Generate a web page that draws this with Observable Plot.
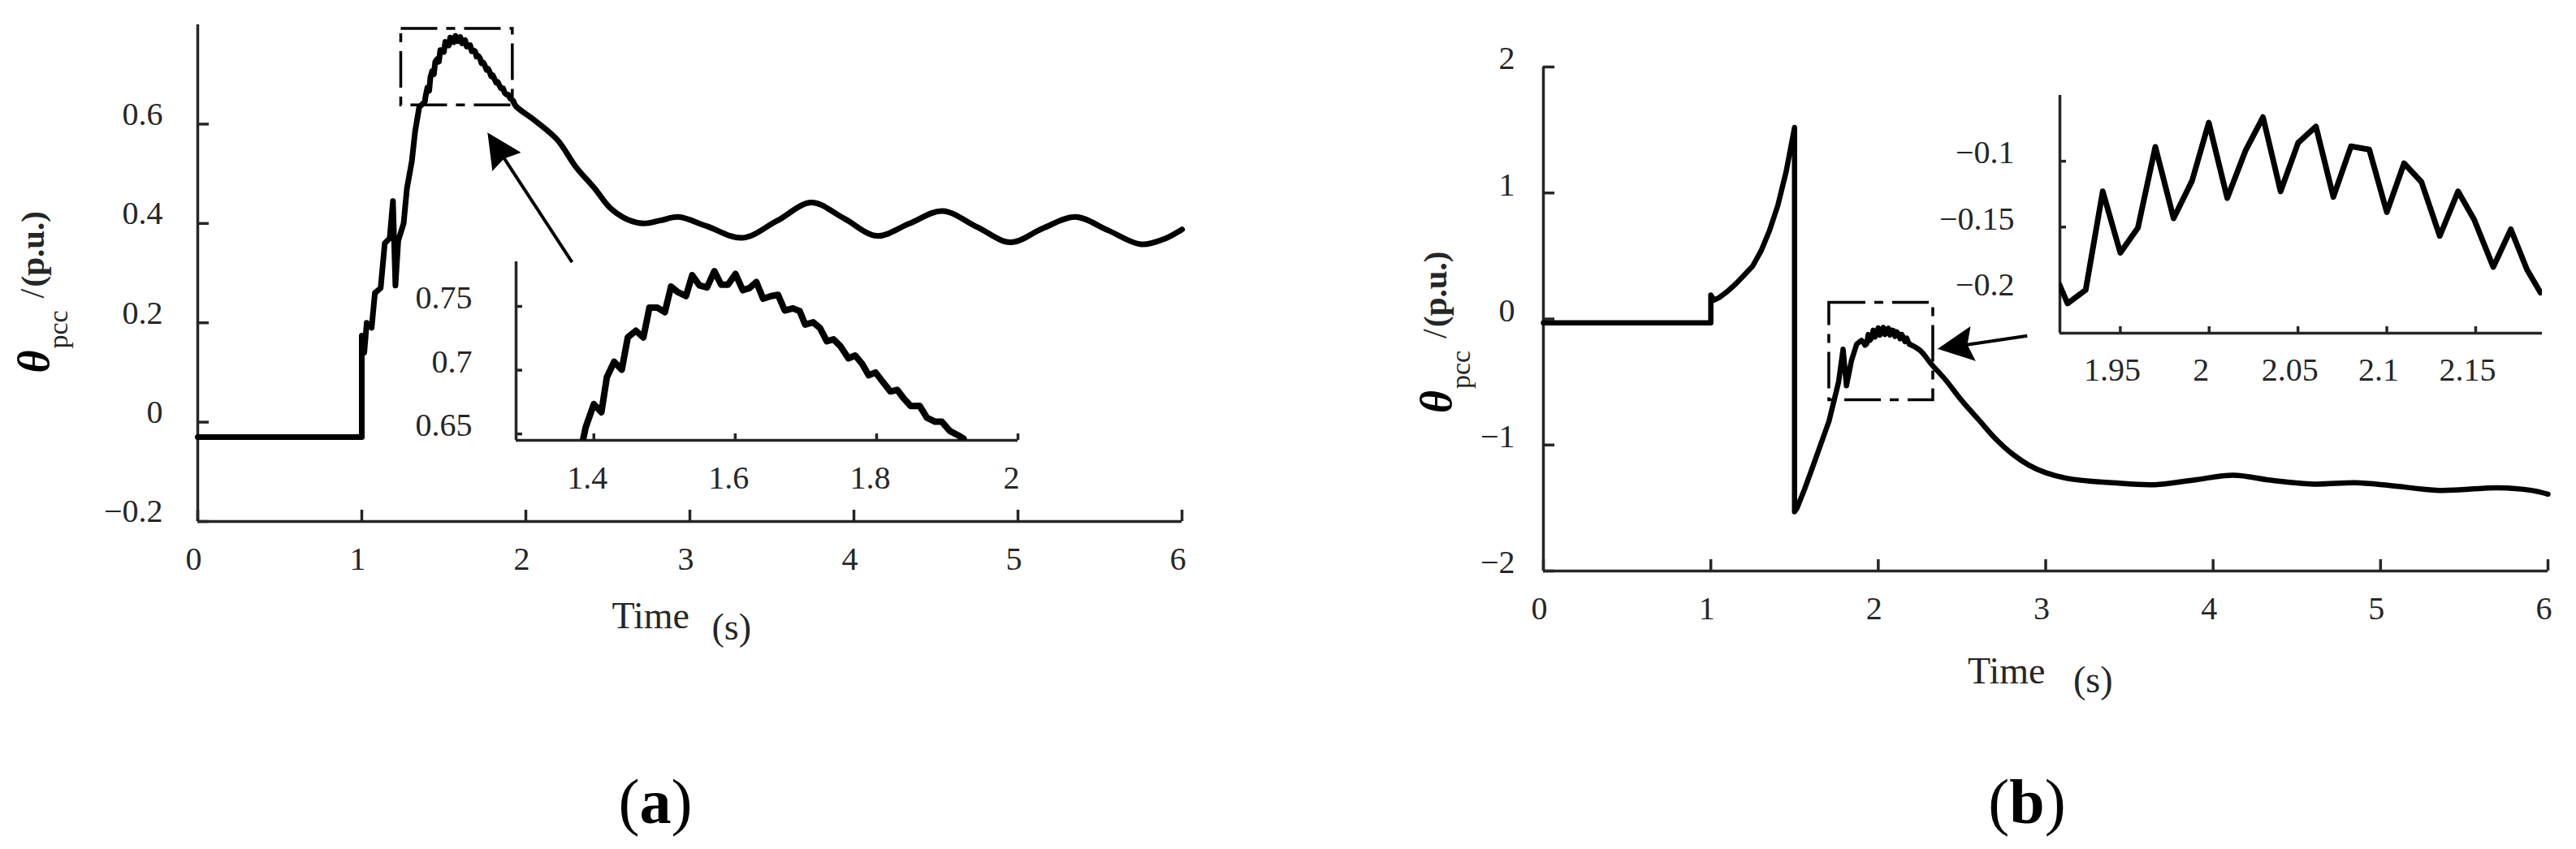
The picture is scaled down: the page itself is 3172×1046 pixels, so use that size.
<!DOCTYPE html>
<html><head><meta charset="utf-8">
<script src="https://cdn.jsdelivr.net/npm/d3@7"></script>
<script src="https://cdn.jsdelivr.net/npm/@observablehq/plot@0.6"></script>
<style>
html,body{margin:0;padding:0;background:#fff;}
#page{position:relative;width:3172px;height:1046px;overflow:hidden;background:#fff;font-family:"Liberation Serif","Times New Roman",serif;}
.panel{position:absolute;}
.panel svg text{font-family:"Liberation Serif","Times New Roman",serif;}
.cap{position:absolute;font-size:78px;color:#000;transform:translateX(-50%);white-space:nowrap;line-height:1;}
</style></head><body>
<div id="page">
  <div id="pa" class="panel" style="left:0px;top:0px;width:1586px;height:860px"></div>
  <div id="pb" class="panel" style="left:1586px;top:0px;width:1586px;height:860px"></div>
  <div id="ia" class="panel" style="left:500px;top:280px;width:800px;height:360px"></div>
  <div id="ib" class="panel" style="left:2380px;top:60px;width:800px;height:440px"></div>
  <div class="cap" style="left:807px;top:949px">(<b>a</b>)</div>
  <div class="cap" style="left:2496px;top:949px">(<b>b</b>)</div>
</div>
<script>
// ---------- data ----------
const xTicksMain = [0, 1, 2, 3, 4, 5, 6];
const yTicksA = [-0.2, 0, 0.2, 0.4, 0.6];
const yTicksB = [-2, -1, 0, 1, 2];
const xTicksInsetA = [1.4, 1.6, 1.8, 2];
const yTicksInsetA = [0.65, 0.7, 0.75];
const xTicksInsetB = [1.95, 2, 2.05, 2.1, 2.15];
const yTicksInsetB = [-0.2, -0.15, -0.1];

const xDomainMain = [0, 6];
const yDomainA = [-0.2, 0.8];
const yDomainB = [-2, 2];
const xDomainInsetA = [1.29, 2];
const yDomainInsetA = [0.645, 0.785];
const xDomainInsetB = [1.916, 2.1875];
const yDomainInsetB = [-0.2306, -0.05];

// panel (a) signal
const earlyA_t = [0, 1.0, 1.0, 1.015, 1.03, 1.06, 1.08, 1.115, 1.14, 1.17, 1.19, 1.205, 1.222, 1.255, 1.275, 1.305, 1.325, 1.35];
const earlyA_v = [-0.03, -0.03, 0.174, 0.14, 0.2, 0.19, 0.26, 0.27, 0.36, 0.37, 0.445, 0.275, 0.365, 0.40, 0.47, 0.525, 0.585, 0.634];
const insetA_t = [1.3847,1.3885,1.4000,1.4107,1.4184,1.4287,1.4395,1.4480,1.4594,1.4701,1.4786,1.4900,1.5004,1.5092,1.5188,1.5303,1.5391,1.5494,1.5601,1.5705,1.5801,1.5897,1.6004,1.6108,1.6203,1.6299,1.6395,1.6510,1.6605,1.6701,1.6816,1.6912,1.6989,1.7103,1.7199,1.7295,1.7391,1.7487,1.7602,1.7697,1.7793,1.7889,1.7985,1.8080,1.8195,1.8291,1.8387,1.8483,1.8608,1.8712,1.8828,1.8923,1.9038,1.9153,1.9230];
const insetA_v = [0.6454,0.6553,0.6734,0.6670,0.6945,0.7066,0.7004,0.7257,0.7309,0.7257,0.7490,0.7490,0.7454,0.7655,0.7612,0.7581,0.7744,0.7665,0.7649,0.7776,0.7670,0.7670,0.7754,0.7627,0.7644,0.7691,0.7560,0.7581,0.7591,0.7468,0.7485,0.7464,0.7358,0.7375,0.7331,0.7227,0.7242,0.7189,0.7093,0.7115,0.7051,0.6960,0.6982,0.6914,0.6833,0.6846,0.6776,0.6719,0.6721,0.6627,0.6596,0.6596,0.6522,0.6490,0.6464];
const lateA_t = [1.923, 1.94, 2.06, 2.193, 2.307, 2.421, 2.515, 2.629, 2.72, 2.82, 2.93, 3.1, 3.32, 3.53, 3.74, 3.94, 4.14, 4.34, 4.54, 4.75, 4.955, 5.15, 5.35, 5.55, 5.75, 5.9, 6.0];
const lateA_v = [0.6464, 0.636, 0.606, 0.568, 0.513, 0.47, 0.431, 0.4065, 0.40, 0.406, 0.413, 0.395, 0.371, 0.405, 0.442, 0.41, 0.375, 0.40, 0.425, 0.393, 0.362, 0.39, 0.413, 0.386, 0.358, 0.37, 0.388];

// panel (b) signal
const earlyB_t = [0, 1.0, 1.0, 1.02, 1.05, 1.1, 1.15, 1.2, 1.25, 1.3, 1.35, 1.4, 1.45, 1.5, 1.5, 1.515, 1.56, 1.612, 1.706, 1.763, 1.79, 1.81, 1.84, 1.871, 1.9];
const earlyB_v = [-0.03, -0.03, 0.19, 0.15, 0.17, 0.22, 0.28, 0.35, 0.42, 0.54, 0.70, 0.90, 1.17, 1.52, -1.53, -1.50, -1.35, -1.16, -0.81, -0.50, -0.24, -0.53, -0.33, -0.20, -0.17];
const insetB_t = [1.9157,1.9203,1.9305,1.9401,1.9500,1.9599,1.9697,1.9800,1.9904,1.9998,2.0102,2.0204,2.0303,2.0402,2.0501,2.0601,2.0699,2.0798,2.0901,2.1000,2.1097,2.1195,2.1298,2.1401,2.1492,2.1599,2.1698,2.1789,2.1865];
const insetB_v = [-0.1937,-0.2080,-0.1978,-0.1229,-0.1695,-0.1506,-0.0891,-0.1434,-0.1148,-0.0707,-0.1280,-0.0922,-0.0665,-0.1229,-0.0860,-0.0737,-0.1271,-0.0887,-0.0911,-0.1387,-0.1016,-0.1158,-0.1568,-0.1229,-0.1445,-0.1803,-0.1517,-0.1824,-0.1998];
const lateB_t = [2.1865, 2.25, 2.318, 2.4, 2.5, 2.6, 2.7, 2.8, 2.9, 3.0, 3.15, 3.4, 3.65, 3.9, 4.12, 4.35, 4.6, 4.85, 5.05, 5.35, 5.7, 5.9, 6.0];
const lateB_v = [-0.1998, -0.25, -0.36, -0.48, -0.65, -0.80, -0.95, -1.07, -1.16, -1.22, -1.27, -1.30, -1.315, -1.275, -1.24, -1.28, -1.31, -1.30, -1.32, -1.36, -1.34, -1.36, -1.39];

// annotations (data units)
const boxA = [{t1: 1.24, t2: 1.92, v1: 0.638, v2: 0.792}];
const boxB = [{t1: 1.707, t2: 2.328, v1: -0.644, v2: 0.129}];
const arrowA_tail = [2.282, 0.322], arrowA_tip = [1.767, 0.582];
const arrowB_tail = [2.890, -0.133], arrowB_tip = [2.357, -0.238];

// ---------- helpers ----------
const rows = (ts, vs) => ts.map((t, i) => ({t, v: vs[i]}));
const FONT = "'Liberation Serif','Times New Roman',serif";
const AX = "#262626";
const fmt = d => (d < 0 ? "\u2212" : "") + String(+Math.abs(d).toFixed(4));

function axisMarks(o) {
  return [
    Plot.ruleX([o.xDomain[0]], {stroke: AX, strokeWidth: 3.5}),
    Plot.ruleY([o.yDomain[0]], {stroke: AX, strokeWidth: 3.5}),
    Plot.axisX({ticks: o.xTicks, tickSize: -o.tick, fill: "none", stroke: AX, strokeWidth: 3.5, label: null}),
    Plot.axisX({ticks: o.xTicks, tickSize: 0, tickPadding: o.xPad, stroke: "none", fill: AX, fontSize: 40, fontFamily: FONT, tickFormat: fmt, dx: o.xdx, label: null}),
    Plot.axisY({ticks: o.yTicks, tickSize: -o.tick, fill: "none", stroke: AX, strokeWidth: 3.5, label: null}),
    Plot.axisY({ticks: o.yTicks, tickSize: 0, tickPadding: o.yPad, stroke: "none", fill: AX, fontSize: 40, fontFamily: FONT, tickFormat: fmt, dy: o.ydy, label: null})
  ];
}

function arrowMarks(L, xDomain, yDomain, tail, tip, headLen, headW, notch) {
  const sx = Plot.scale({x: {domain: xDomain, range: [L.ml, L.width - L.mr]}});
  const sy = Plot.scale({y: {domain: yDomain, range: [L.height - L.mb, L.mt]}});
  const px = sx.apply(tip[0]), py = sy.apply(tip[1]);
  const qx = sx.apply(tail[0]), qy = sy.apply(tail[1]);
  const len = Math.hypot(px - qx, py - qy);
  const ux = (px - qx) / len, uy = (py - qy) / len;
  const nx = -uy, ny = ux;
  const bx = px - headLen * ux, by = py - headLen * uy;
  const toData = ([x, y]) => ({t: sx.invert(x), v: sy.invert(y)});
  const notchPt = toData([px - notch * ux, py - notch * uy]);
  const head = [[px, py], [bx + headW / 2 * nx, by + headW / 2 * ny], [px - notch * ux, py - notch * uy], [bx - headW / 2 * nx, by - headW / 2 * ny]].map(toData);
  return [
    Plot.link([{x1: tail[0], y1: tail[1], x2: notchPt.t, y2: notchPt.v}], {x1: "x1", y1: "y1", x2: "x2", y2: "y2", stroke: "#000", strokeWidth: 4}),
    Plot.line(head, {x: "t", y: "v", fill: "#000", stroke: "#000", strokeWidth: 1})
  ];
}

function yLabelMarks(dx, dy) {
  const common = {text: d => d, frameAnchor: "left", rotate: -90, textAnchor: "start", lineAnchor: "middle", fontFamily: FONT};
  return [
    Plot.text(["\u03B8"], {...common, dx: dx, dy: dy, fontSize: 54, fontWeight: "bold", fontStyle: "italic", fill: "#000"}),
    Plot.text(["pcc"], {...common, dx: dx + 30, dy: dy - 30, fontSize: 34, fill: AX}),
    Plot.text(["/"], {...common, dx: dx - 2, dy: dy - 92, fontSize: 42, fill: AX}),
    Plot.text(["(p.u.)"], {...common, dx: dx - 2, dy: dy - 106, fontSize: 41, fontWeight: "bold", fill: AX})
  ];
}

function xLabelMarks(dyTime, dyS, dxTime, dxS) {
  const common = {text: d => d, frameAnchor: "bottom", textAnchor: "start", lineAnchor: "middle", fontSize: 46, fontFamily: FONT, fill: AX};
  return [
    Plot.text(["Time"], {...common, dx: dxTime, dy: dyTime}),
    Plot.text(["(s)"], {...common, dx: dxS, dy: dyS})
  ];
}

// ---------- layouts ----------
const LA = {width: 1586, height: 860, ml: 243, mt: 30, mr: 131, mb: 218};
const LB = {width: 1586, height: 860, ml: 314, mt: 82, mr: 35, mb: 157};
const LIA = {width: 800, height: 360, ml: 135, mt: 42, mr: 47, mb: 98};
const LIB = {width: 800, height: 440, ml: 156, mt: 57, mr: 50, mb: 90};

function base(L, xDomain, yDomain, marks) {
  return Plot.plot({
    width: L.width, height: L.height,
    marginLeft: L.ml, marginTop: L.mt, marginRight: L.mr, marginBottom: L.mb,
    x: {domain: xDomain}, y: {domain: yDomain},
    style: {fontFamily: FONT, background: "transparent", overflow: "visible", maxWidth: "none"},
    marks
  });
}

const dash = "45,11,11,11";

// panel (a)
const plotA = base(LA, xDomainMain, yDomainA, [
  ...axisMarks({xDomain: xDomainMain, yDomain: yDomainA, xTicks: xTicksMain, yTicks: yTicksA, tick: 14, xPad: 31, yPad: 43, xdx: -5, ydy: -12}),
  Plot.line(rows(earlyA_t, earlyA_v).concat(rows(insetA_t, insetA_v)), {x: "t", y: "v", stroke: "#000", strokeWidth: 7}),
  Plot.line(rows(lateA_t, lateA_v), {x: "t", y: "v", stroke: "#000", strokeWidth: 7, curve: "catmull-rom"}),
  Plot.rect(boxA, {x1: "t1", x2: "t2", y1: "v1", y2: "v2", fill: "none", stroke: "#000", strokeWidth: 3.5, strokeDasharray: dash}),
  ...arrowMarks(LA, xDomainMain, yDomainA, arrowA_tail, arrowA_tip, 42, 41, 37),
  ...yLabelMarks(-201, 123),
  ...xLabelMarks(117, 131, -96, 27)
]);
document.getElementById("pa").appendChild(plotA);

// panel (b)
const plotB = base(LB, xDomainMain, yDomainB, [
  ...axisMarks({xDomain: xDomainMain, yDomain: yDomainB, xTicks: xTicksMain, yTicks: yTicksB, tick: 14, xPad: 31, yPad: 35, xdx: -5, ydy: -10}),
  Plot.line(rows(earlyB_t, earlyB_v).concat(rows(insetB_t, insetB_v)), {x: "t", y: "v", stroke: "#000", strokeWidth: 6.5}),
  Plot.line(rows(lateB_t, lateB_v), {x: "t", y: "v", stroke: "#000", strokeWidth: 6.5, curve: "catmull-rom"}),
  Plot.rect(boxB, {x1: "t1", x2: "t2", y1: "v1", y2: "v2", fill: "none", stroke: "#000", strokeWidth: 3.5, strokeDasharray: dash}),
  ...arrowMarks(LB, xDomainMain, yDomainB, arrowB_tail, arrowB_tip, 43, 42, 36),
  ...yLabelMarks(-131, 116),
  ...xLabelMarks(124, 135, -96, 34)
]);
document.getElementById("pb").appendChild(plotB);

// inset (a)
const plotIA = base(LIA, xDomainInsetA, yDomainInsetA, [
  ...axisMarks({xDomain: xDomainInsetA, yDomain: yDomainInsetA, xTicks: xTicksInsetA, yTicks: yTicksInsetA, tick: 8, xPad: 31, yPad: 54, xdx: -8, ydy: -10}),
  Plot.line(rows(insetA_t, insetA_v), {x: "t", y: "v", stroke: "#000", strokeWidth: 8, clip: true})
]);
document.getElementById("ia").appendChild(plotIA);

// inset (b)
const plotIB = base(LIB, xDomainInsetB, yDomainInsetB, [
  ...axisMarks({xDomain: xDomainInsetB, yDomain: yDomainInsetB, xTicks: xTicksInsetB, yTicks: yTicksInsetB, tick: 8, xPad: 30, yPad: 56, xdx: -10, ydy: -10}),
  Plot.line(rows(insetB_t, insetB_v), {x: "t", y: "v", stroke: "#000", strokeWidth: 7, clip: true})
]);
document.getElementById("ib").appendChild(plotIB);
</script>
</body></html>
